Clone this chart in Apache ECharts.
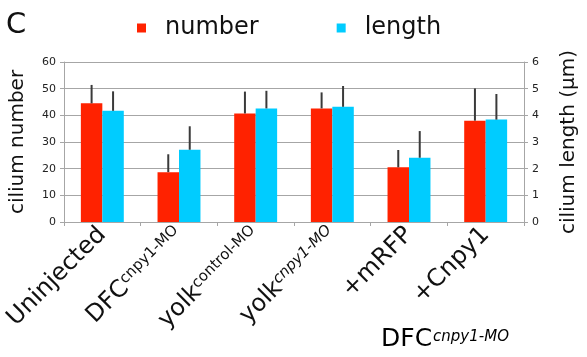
<!DOCTYPE html>
<html>
<head>
<meta charset="utf-8">
<script src="https://cdn.jsdelivr.net/npm/echarts@6/dist/echarts.min.js"></script>
<style>
  html, body { margin: 0; padding: 0; background: #fff; }
  #chart { width: 587px; height: 357px; }
</style>
</head>
<body>
<div id="chart"></div>
<script>
// groups, '^' marks the superscript part of a label
var categories = ['Uninjected', 'DFC^cnpy1-MO', 'yolk^control-MO', 'yolk^cnpy1-MO', '+mRFP', '+Cnpy1']
// cilium number (left axis)
var numberMean = [44.5, 18.7, 40.7, 42.6, 20.5, 38.0]
var numberSd = [6.9, 6.7, 8.2, 6.0, 6.5, 12.1]
// cilium length in um (right axis)
var lengthMean = [4.17, 2.71, 4.26, 4.32, 2.41, 3.84]
var lengthSd = [0.73, 0.88, 0.66, 0.78, 1.0, 0.96]
var numberTicks = [0, 10, 20, 30, 40, 50, 60]
var lengthTicks = [0, 1, 2, 3, 4, 5, 6]

var FONT = 'DejaVu Sans'
var RED = '#ff2200'
var BLUE = '#00ccff'
var BAR_FRAC = 0.28

var myChart = echarts.init(document.getElementById('chart'))

function errData(mean, sd) {
  return mean.map(function (m, i) {
    return [i, m, m + sd[i]]
  })
}

// one-sided error bar drawn from bar top upwards
function errRenderer(side) {
  return function (params, api) {
    var idx = api.value(0)
    var bottom = api.coord([idx, api.value(1)])
    var top = api.coord([idx, api.value(2)])
    var bw = api.size([1, 0])[0] * BAR_FRAC
    var x = bottom[0] + side * bw / 2
    return {
      type: 'line',
      shape: { x1: x, y1: bottom[1], x2: x, y2: top[1] },
      style: { stroke: '#3a3a3a', lineWidth: 2 },
    }
  }
}

function labelFormatter(value) {
  var parts = value.split('^')
  if (parts.length === 1) return '{b|' + value + '}'
  var key = value.indexOf('yolk^cnpy1') === 0 ? 'si' : 's'
  return '{b|' + parts[0] + '}{' + key + '|' + parts[1] + '}'
}

var option = {
  animation: false,
  textStyle: { fontFamily: FONT },
  grid: { left: 57, right: 52, top: 62, bottom: 135 },
  legend: {
    left: 132,
    top: 11,
    icon: 'rect',
    itemWidth: 9,
    itemHeight: 9,
    itemGap: 78,
    textStyle: { fontFamily: FONT, fontSize: 24, color: '#111', padding: [0, 0, 0, 14] },
    data: ['number', 'length'],
  },
  graphic: [
    {
      type: 'text',
      left: 6,
      top: 11,
      style: { text: 'C', font: '29px "DejaVu Sans"', fill: '#111' },
    },
    {
      type: 'text',
      left: 381,
      top: 327,
      style: {
        text: '{b|DFC}{s|cnpy1-MO}',
        rich: {
          b: { fontFamily: FONT, fontSize: 25, color: '#111' },
          s: { fontFamily: FONT, fontSize: 15, fontStyle: 'italic', color: '#111', verticalAlign: 'top', padding: [3, 0, 0, 1] },
        },
      },
    },
  ],
  xAxis: {
    type: 'category',
    data: categories,
    axisLine: { lineStyle: { color: '#a6a6a6', width: 1 } },
    axisTick: { show: true, length: 4, lineStyle: { color: '#a6a6a6' } },
    axisLabel: {
      rotate: 45,
      margin: 9,
      interval: 0,
      color: '#111',
      formatter: labelFormatter,
      rich: {
        b: { fontFamily: FONT, fontSize: 24, color: '#111' },
        s: { fontFamily: FONT, fontSize: 15, color: '#111', verticalAlign: 'top' },
        si: { fontFamily: FONT, fontSize: 15, fontStyle: 'italic', color: '#111', verticalAlign: 'top' },
      },
    },
  },
  yAxis: [
    {
      type: 'value',
      min: numberTicks[0],
      max: numberTicks[numberTicks.length - 1],
      interval: 10,
      name: 'cilium number',
      nameLocation: 'middle',
      nameRotate: 90,
      nameGap: 36,
      nameTextStyle: { fontFamily: FONT, fontSize: 20, color: '#111' },
      axisLine: { show: true, lineStyle: { color: '#a6a6a6' } },
      axisTick: { show: true, length: 4, lineStyle: { color: '#a6a6a6' } },
      axisLabel: { fontFamily: FONT, fontSize: 11, color: '#222', margin: 8 },
      splitLine: { lineStyle: { color: '#a6a6a6', width: 1 } },
    },
    {
      type: 'value',
      min: lengthTicks[0],
      max: lengthTicks[lengthTicks.length - 1],
      interval: 1,
      name: 'cilium length (µm)',
      nameLocation: 'middle',
      nameRotate: 90,
      nameGap: 35,
      nameTextStyle: { fontFamily: FONT, fontSize: 20, color: '#111' },
      axisLine: { show: true, lineStyle: { color: '#a6a6a6' } },
      axisTick: { show: true, length: 4, lineStyle: { color: '#a6a6a6' } },
      axisLabel: { fontFamily: FONT, fontSize: 11, color: '#222', margin: 8 },
      splitLine: { show: false },
    },
  ],
  series: [
    {
      name: 'number',
      type: 'bar',
      yAxisIndex: 0,
      barWidth: BAR_FRAC * 100 + '%',
      barGap: '0%',
      itemStyle: { color: RED },
      data: numberMean,
    },
    {
      name: 'length',
      type: 'bar',
      yAxisIndex: 1,
      barWidth: BAR_FRAC * 100 + '%',
      barGap: '0%',
      itemStyle: { color: BLUE },
      data: lengthMean,
    },
    {
      type: 'custom',
      yAxisIndex: 0,
      z: 5,
      renderItem: errRenderer(-1),
      encode: { x: 0, y: [1, 2] },
      data: errData(numberMean, numberSd),
    },
    {
      type: 'custom',
      yAxisIndex: 1,
      z: 5,
      renderItem: errRenderer(1),
      encode: { x: 0, y: [1, 2] },
      data: errData(lengthMean, lengthSd),
    },
  ],
}

myChart.setOption(option)
</script>
</body>
</html>
